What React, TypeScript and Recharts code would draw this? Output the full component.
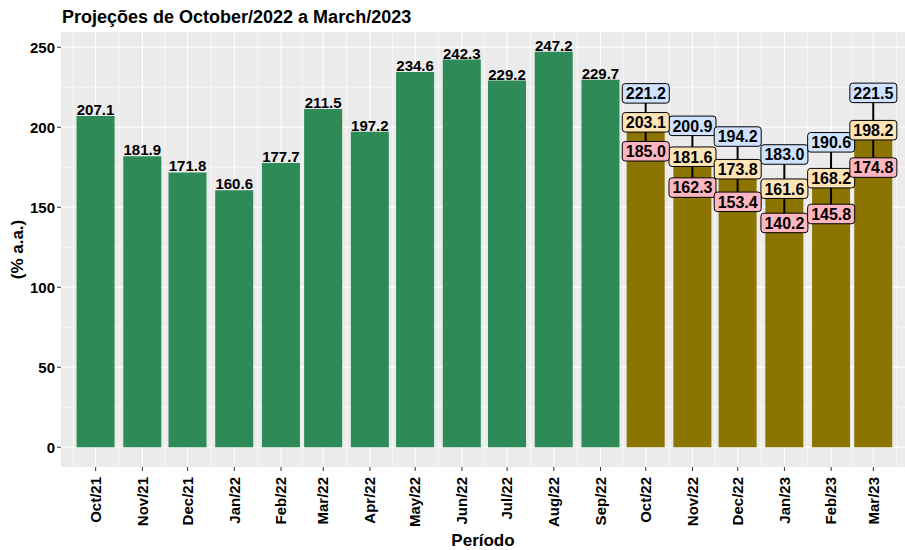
import React from "react";
import {
  ComposedChart,
  Bar,
  Line,
  XAxis,
  YAxis,
  CartesianGrid,
  Cell,
  ErrorBar,
  LabelList,
  Label,
} from "recharts";

// meses (primeiro dia de cada mes) e rotulos do eixo x
const meses = [
  "2021-10-01", "2021-11-01", "2021-12-01", "2022-01-01", "2022-02-01", "2022-03-01",
  "2022-04-01", "2022-05-01", "2022-06-01", "2022-07-01", "2022-08-01", "2022-09-01",
  "2022-10-01", "2022-11-01", "2022-12-01", "2023-01-01", "2023-02-01", "2023-03-01",
];
const rotulosMes = [
  "Oct/21", "Nov/21", "Dec/21", "Jan/22", "Feb/22", "Mar/22",
  "Apr/22", "May/22", "Jun/22", "Jul/22", "Aug/22", "Sep/22",
  "Oct/22", "Nov/22", "Dec/22", "Jan/23", "Feb/23", "Mar/23",
];

// valores realizados
const realizado = [207.1, 181.9, 171.8, 160.6, 177.7, 211.5, 197.2, 234.6, 242.3, 229.2, 247.2, 229.7];

// projecoes: media, limite superior e inferior
const projMedia = [203.1, 181.6, 173.8, 161.6, 168.2, 198.2];
const projSuperior = [221.2, 200.9, 194.2, 183.0, 190.6, 221.5];
const projInferior = [185.0, 162.3, 153.4, 140.2, 145.8, 174.8];

const yTicks = [0, 50, 100, 150, 200, 250];
const yMinor = [25, 75, 125, 175, 225];

const VERDE = "#2E8B57";
const OLIVA = "#8B7500";
const FONTE = '"Liberation Sans", Arial, Helvetica, sans-serif';

// dias desde o primeiro mes (eixo de datas)
const diaDe = (iso: string) => Math.round((Date.parse(iso) - Date.parse(meses[0])) / 86400000);

const dados = meses.map((m, i) => {
  const j = i - realizado.length;
  const proj = j >= 0;
  return {
    dia: diaDe(m),
    rotulo: rotulosMes[i],
    valor: proj ? projMedia[j] : realizado[i],
    real: proj ? null : realizado[i],
    media: proj ? projMedia[j] : null,
    sup: proj ? projSuperior[j] : null,
    inf: proj ? projInferior[j] : null,
    err: proj ? [projMedia[j] - projInferior[j], projSuperior[j] - projMedia[j]] : [0, 0],
    proj,
  };
});

const ticksX = dados.map((d) => d.dia);
const rotuloPorDia: Record<number, string> = {};
dados.forEach((d) => (rotuloPorDia[d.dia] = d.rotulo));

// linhas de grade menores no meio dos meses
const limitesX = [diaDe("2021-09-01"), ...ticksX, diaDe("2023-04-01")];
const xMinor = limitesX.slice(1).map((d, i) => (d + limitesX[i]) / 2);

const XTick = (props: any) => {
  const { x, y, payload } = props;
  return (
    <g transform={`translate(${x},${y})`}>
      <text
        transform="rotate(-90)"
        x={-4}
        dy="0.35em"
        textAnchor="end"
        fill="#000"
        fontSize={15}
        fontWeight={700}
      >
        {rotuloPorDia[payload.value]}
      </text>
    </g>
  );
};

const TituloY = (props: any) => {
  const vb = props.viewBox || { y: 32, height: 435 };
  const cy = vb.y + vb.height / 2;
  return (
    <text
      transform={`translate(22.5,${cy}) rotate(-90)`}
      textAnchor="middle"
      fill="#000"
      fontSize={17}
      fontWeight={700}
    >
      (% a.a.)
    </text>
  );
};

const RotuloReal = (props: any) => {
  const { x, y, width, value } = props;
  if (value == null) return null;
  return (
    <text x={x + width / 2} y={y - 1} textAnchor="middle" fill="#000" fontSize={15} fontWeight={700}>
      {Number(value).toFixed(1)}
    </text>
  );
};

// caixa de rotulo (estilo geom_label)
const caixa = (cor: string, nome: string) => (props: any) => {
  const { cx, cy, value, index } = props;
  if (value == null || cy == null || isNaN(cy)) return <g key={`${nome}-${index}`} />;
  return (
    <g key={`${nome}-${index}`}>
      <rect x={cx - 23.5} y={cy - 9.75} width={47} height={19.5} rx={3} ry={3} fill={cor} stroke="#000" strokeWidth={1} />
      <text x={cx} y={cy + 5.8} textAnchor="middle" fill="#000" fontSize={16} fontWeight={700}>
        {Number(value).toFixed(1)}
      </text>
    </g>
  );
};

export default function App() {
  return (
    <div style={{ position: "absolute", left: 0, top: 0, width: 905, height: 550, background: "#fff", fontFamily: FONTE }}>
      <ComposedChart width={905} height={550} data={dados} margin={{ top: 32, right: 0, bottom: 0, left: 0 }}>
        <CartesianGrid
          fill="#EBEBEB"
          stroke="#FFFFFF"
          strokeWidth={0.55}
          horizontalValues={yMinor}
          verticalValues={xMinor}
        />
        <CartesianGrid stroke="#FFFFFF" strokeWidth={1.1} horizontalValues={yTicks} verticalValues={ticksX} />
        <XAxis
          type="number"
          dataKey="dia"
          domain={[-23, 537]}
          allowDataOverflow
          ticks={ticksX}
          interval={0}
          tickSize={4}
          tickLine={{ stroke: "#333333" }}
          axisLine={false}
          height={83}
          tick={<XTick />}
        >
          <Label
            value="Período"
            position="insideBottom"
            offset={4}
            style={{ fontSize: 17, fontWeight: 700, fill: "#000" }}
          />
        </XAxis>
        <YAxis
          type="number"
          domain={[-12.36, 259.56]}
          allowDataOverflow
          ticks={yTicks}
          interval={0}
          width={61}
          tickSize={4}
          tickLine={{ stroke: "#333333" }}
          axisLine={false}
          tick={{ fill: "#000", fontSize: 15, fontWeight: 700 }}
        >
          <Label content={TituloY} />
        </YAxis>
        <Bar dataKey="valor" barSize={38} isAnimationActive={false}>
          {dados.map((d, i) => (
            <Cell key={i} fill={d.proj ? OLIVA : VERDE} />
          ))}
          <ErrorBar dataKey="err" width={0} strokeWidth={2} stroke="#000" direction="y" />
          <LabelList dataKey="real" content={RotuloReal} />
        </Bar>
        <Line dataKey="sup" stroke="none" dot={caixa("#CFE2FF", "sup")} activeDot={false} isAnimationActive={false} />
        <Line dataKey="media" stroke="none" dot={caixa("#FFE4B5", "med")} activeDot={false} isAnimationActive={false} />
        <Line dataKey="inf" stroke="none" dot={caixa("#FFB6C1", "inf")} activeDot={false} isAnimationActive={false} />
      </ComposedChart>
      <div
        style={{
          position: "absolute",
          left: 62,
          top: 8,
          fontSize: 18,
          fontWeight: 700,
          lineHeight: "18px",
          color: "#000",
          whiteSpace: "nowrap",
        }}
      >
        Projeções de October/2022 a March/2023
      </div>
    </div>
  );
}
